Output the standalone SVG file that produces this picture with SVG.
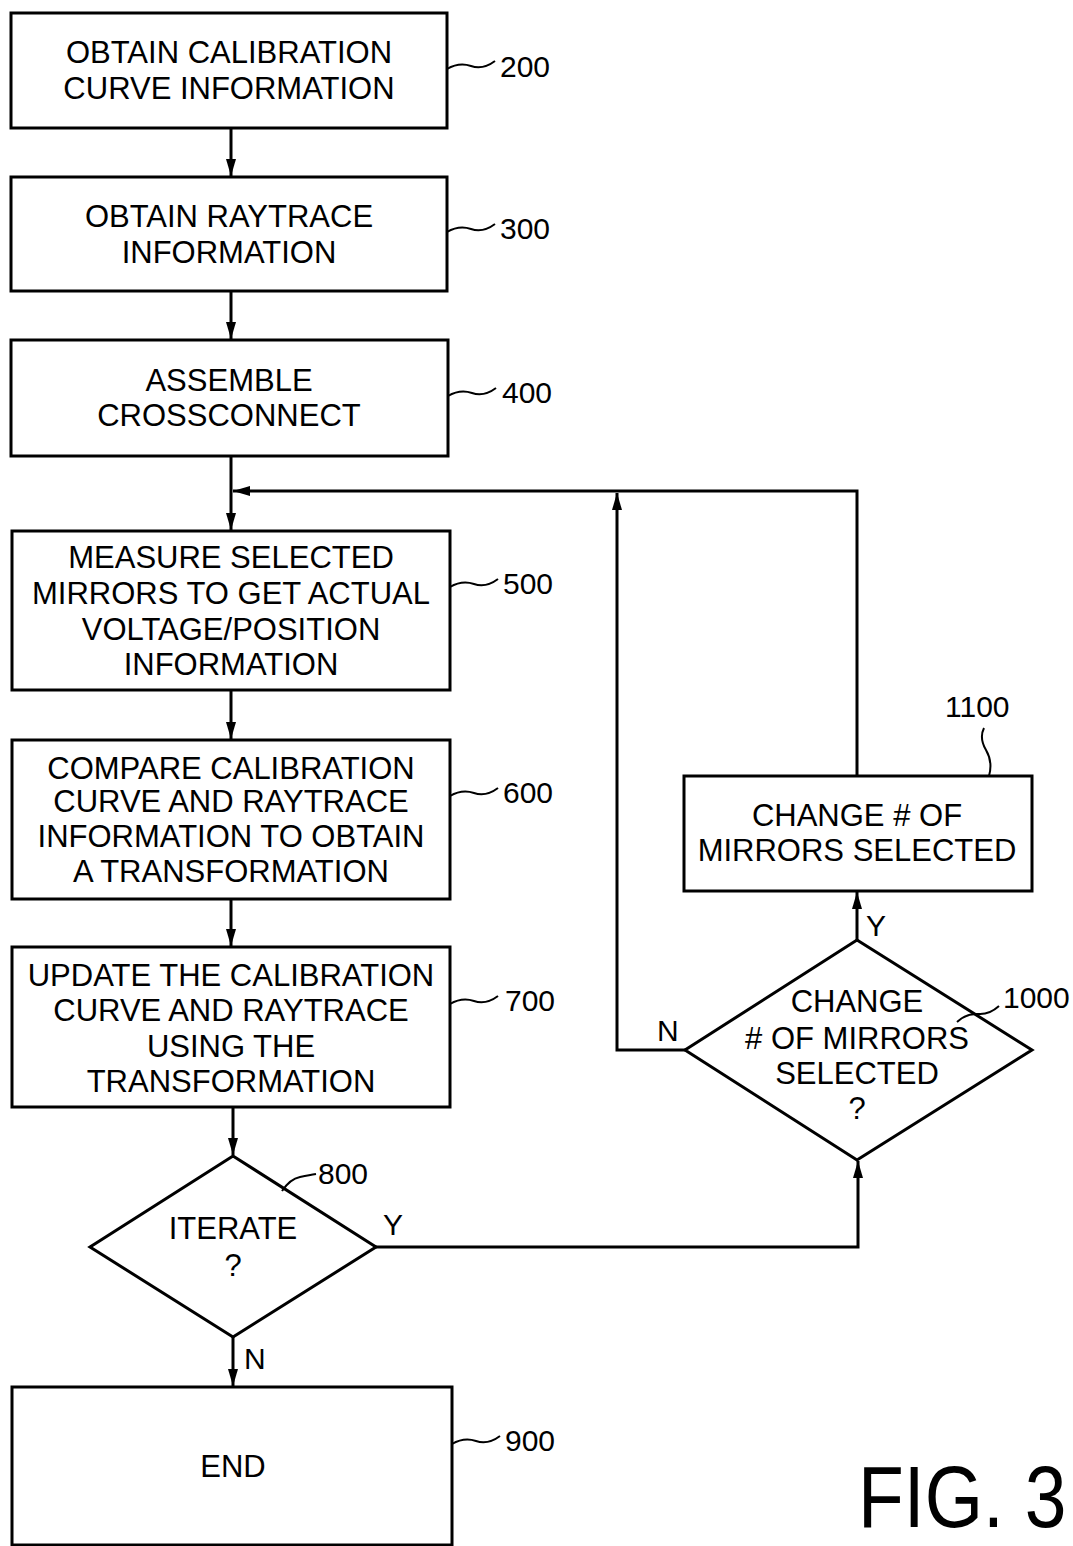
<svg xmlns="http://www.w3.org/2000/svg" width="1073" height="1546" viewBox="0 0 1073 1546">
<style>
.box{fill:#fff;stroke:#000;stroke-width:3}
.t{font-family:"Liberation Sans",Arial,sans-serif;font-size:31px;fill:#000;text-anchor:middle}
.n{font-family:"Liberation Sans",Arial,sans-serif;font-size:30px;fill:#000}
.ld{fill:none;stroke:#000;stroke-width:2}
.c{fill:none;stroke:#000;stroke-width:3}
</style>
<defs>
<marker id="ah" markerUnits="userSpaceOnUse" markerWidth="17" markerHeight="11" refX="17" refY="5" orient="auto">
<path d="M0,0 L17,5 L0,10 z" fill="#000"/>
</marker>
</defs>
<rect width="1073" height="1546" fill="#fff"/>

<g id="connectors">
<path class="c" d="M231,128 V176" marker-end="url(#ah)"/>
<path class="c" d="M231,291 V339" marker-end="url(#ah)"/>
<path class="c" d="M231,456 V530" marker-end="url(#ah)"/>
<path class="c" d="M231,690 V739" marker-end="url(#ah)"/>
<path class="c" d="M231,899 V946" marker-end="url(#ah)"/>
<path class="c" d="M857,776 V491 H233" marker-end="url(#ah)"/>
<path class="c" d="M685,1050 H617 V493" marker-end="url(#ah)"/>
<path class="c" d="M857,940 V892" marker-end="url(#ah)"/>
<path class="c" d="M233,1107 V1155" marker-end="url(#ah)"/>
<path class="c" d="M376,1247 H858 V1161" marker-end="url(#ah)"/>
<path class="c" d="M233,1337 V1386" marker-end="url(#ah)"/>
</g>

<g id="n200">
<rect class="box" x="11" y="13" width="436" height="115"/>
<text class="t" x="229" y="63">OBTAIN CALIBRATION</text>
<text class="t" x="229" y="99">CURVE INFORMATION</text>
<path class="ld" d="M447,69 q12,-7 24,-3 t24,-5"/>
<text class="n" x="500" y="77">200</text>
</g>

<g id="n300">
<rect class="box" x="11" y="177" width="436" height="114"/>
<text class="t" x="229" y="227">OBTAIN RAYTRACE</text>
<text class="t" x="229" y="263">INFORMATION</text>
<path class="ld" d="M447,232 q12,-7 24,-3 t24,-5"/>
<text class="n" x="500" y="239">300</text>
</g>

<g id="n400">
<rect class="box" x="11" y="340" width="437" height="116"/>
<text class="t" x="229" y="391">ASSEMBLE</text>
<text class="t" x="229" y="426">CROSSCONNECT</text>
<path class="ld" d="M448,396 q12,-7 24,-3 t24,-5"/>
<text class="n" x="502" y="403">400</text>
</g>

<g id="n500">
<rect class="box" x="12" y="531" width="438" height="159"/>
<text class="t" x="231" y="568">MEASURE SELECTED</text>
<text class="t" x="231" y="604">MIRRORS TO GET ACTUAL</text>
<text class="t" x="231" y="640">VOLTAGE/POSITION</text>
<text class="t" x="231" y="675">INFORMATION</text>
<path class="ld" d="M450,587 q12,-7 24,-3 t24,-5"/>
<text class="n" x="503" y="594">500</text>
</g>

<g id="n600">
<rect class="box" x="12" y="740" width="438" height="159"/>
<text class="t" x="231" y="779">COMPARE CALIBRATION</text>
<text class="t" x="231" y="812">CURVE AND RAYTRACE</text>
<text class="t" x="231" y="847">INFORMATION TO OBTAIN</text>
<text class="t" x="231" y="882">A TRANSFORMATION</text>
<path class="ld" d="M450,796 q12,-7 24,-3 t24,-5"/>
<text class="n" x="503" y="803">600</text>
</g>

<g id="n700">
<rect class="box" x="12" y="947" width="438" height="160"/>
<text class="t" x="231" y="986">UPDATE THE CALIBRATION</text>
<text class="t" x="231" y="1021">CURVE AND RAYTRACE</text>
<text class="t" x="231" y="1057">USING THE</text>
<text class="t" x="231" y="1092">TRANSFORMATION</text>
<path class="ld" d="M450,1004 q12,-7 24,-3 t24,-5"/>
<text class="n" x="505" y="1011">700</text>
</g>

<g id="n800">
<polygon class="box" points="233,1156 376,1247 233,1337 90,1247"/>
<text class="t" x="233" y="1239">ITERATE</text>
<text class="t" x="233" y="1276">?</text>
<path class="ld" d="M282,1191 q8,-12 18,-14 t16,-3"/>
<text class="n" x="318" y="1184">800</text>
<text class="n" x="383" y="1235">Y</text>
<text class="n" x="244" y="1369">N</text>
</g>

<g id="n900">
<rect class="box" x="12" y="1387" width="440" height="158"/>
<text class="t" x="233" y="1477">END</text>
<path class="ld" d="M452,1444 q12,-7 24,-3 t24,-5"/>
<text class="n" x="505" y="1451">900</text>
</g>

<g id="n1000">
<polygon class="box" points="857,940 1032,1050 857,1160 685,1050"/>
<text class="t" x="857" y="1012">CHANGE</text>
<text class="t" x="857" y="1049"># OF MIRRORS</text>
<text class="t" x="857" y="1084">SELECTED</text>
<text class="t" x="857" y="1119">?</text>
<path class="ld" d="M957,1022 q10,-9 21,-8 t21,-8"/>
<text class="n" x="1003" y="1008">1000</text>
<text class="n" x="657" y="1041">N</text>
<text class="n" x="866" y="936">Y</text>
</g>

<g id="n1100">
<rect class="box" x="684" y="776" width="348" height="115"/>
<text class="t" x="857" y="826">CHANGE # OF</text>
<text class="t" x="857" y="861">MIRRORS SELECTED</text>
<path class="ld" d="M984,728 q-5,10 2,22 t3,26"/>
<text class="n" x="945" y="717">1100</text>
</g>

<text id="fig" transform="translate(858,1527) scale(1,1.15)" x="0" y="0" style="font-family:'Liberation Sans',Arial,sans-serif;font-size:75px;fill:#000">FIG. 3</text>
</svg>
